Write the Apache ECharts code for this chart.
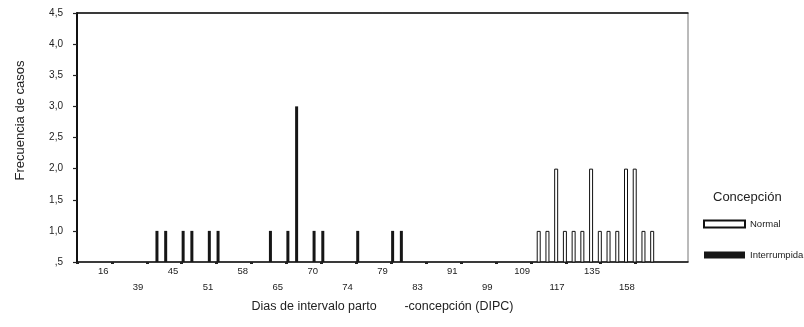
<!DOCTYPE html>
<html>
<head>
<meta charset="utf-8">
<script src="https://cdn.jsdelivr.net/npm/echarts@6/dist/echarts.min.js"></script>
<style>
html,body{margin:0;padding:0;background:#fff;}
#chart{width:804px;height:327px;}
</style>
</head>
<body>
<div id="chart"></div>
<script>
// Category values (days); every 4th one is labelled in the reference
const categories = [
  12, 14, 15, 16,   25, 32, 36, 39,   40, 42, 43, 45,   47, 48, 50, 51,
  53, 55, 56, 58,   60, 62, 63, 65,   66, 67, 68, 70,   71, 72, 73, 74,
  75, 76, 77, 79,   80, 81, 82, 83,   85, 87, 89, 91,   93, 95, 97, 99,
  102, 105, 107, 109,   111, 113, 115, 117,   121, 126, 130, 135,   140, 146, 152, 158,
  160, 163, 165
];
// empty slots at the right end of the axis
const padSlots = ['', ' ', '  ', '   '];

const normalValues = [
  0,0,0,0, 0,0,0,0, 0,0,0,0, 0,0,0,0,
  0,0,0,0, 0,0,0,0, 0,0,0,0, 0,0,0,0,
  0,0,0,0, 0,0,0,0, 0,0,0,0, 0,0,0,0,
  0,0,0,0, 0,1,1,2, 1,1,1,2, 1,1,1,2,
  2,1,1
];
const interrumpidaValues = [
  0,0,0,0, 0,0,0,0, 0,1,1,0, 1,1,0,1,
  1,0,0,0, 0,0,1,0, 1,3,0,1, 1,0,0,0,
  1,0,0,0, 1,1,0,0, 0,0,0,0, 0,0,0,0,
  0,0,0,0, 0,0,0,0, 0,0,0,0, 0,0,0,0,
  0,0,0
];
const seriesNames = ['Normal', 'Interrumpida'];
const yTicks = { min: 0.5, max: 4.5, step: 0.5 };

const FONT = "'Liberation Sans', Arial, sans-serif";
const axisCats = categories.map(String).concat(padSlots);
const lastLabel = categories.indexOf(158);

const chart = echarts.init(document.getElementById('chart'));
chart.setOption({
  animation: false,
  backgroundColor: '#fff',
  textStyle: { fontFamily: FONT },
  title: {
    text: 'Concepción',
    left: 713, top: 191, padding: 0,
    textStyle: { fontFamily: FONT, fontSize: 13, fontWeight: 'normal', color: '#222' }
  },
  legend: {
    orient: 'vertical',
    left: 703, top: 219,
    itemWidth: 41, itemHeight: 7, itemGap: 21,
    icon: 'rect',
    padding: 0,
    data: seriesNames,
    textStyle: { fontFamily: FONT, fontSize: 9.5, color: '#222' }
  },
  grid: {
    left: 77, right: 116, top: 13, bottom: 65,
    show: true, borderColor: '#777', borderWidth: 1
  },
  xAxis: [{
    type: 'category',
    data: axisCats,
    boundaryGap: false,
    name: 'Dias de intervalo parto        -concepción (DIPC)',
    nameLocation: 'middle',
    nameGap: 34,
    nameTextStyle: { fontFamily: FONT, fontSize: 12.5, color: '#222' },
    axisLine: { lineStyle: { color: '#111', width: 1.6 } },
    axisTick: {
      interval: (i) => i % 4 === 0 && i <= lastLabel + 1,
      length: 2, lineStyle: { color: '#222', width: 3 }
    },
    axisLabel: {
      interval: (i) => i % 4 === 3 && i <= lastLabel,
      formatter: (v, i) => (((i - 3) / 4) % 2 === 1 ? '\n' + v : v),
      margin: 1, lineHeight: 16,
      fontFamily: FONT, fontSize: 9.5, color: '#222'
    },
    splitLine: { show: false }
  }, {
    type: 'category',
    data: axisCats,
    boundaryGap: false,
    position: 'top',
    axisLine: { lineStyle: { color: '#111', width: 1.5 } },
    axisTick: { show: false },
    axisLabel: { show: false },
    splitLine: { show: false }
  }],
  yAxis: {
    type: 'value',
    min: yTicks.min, max: yTicks.max, interval: yTicks.step,
    name: 'Frecuencia de casos',
    nameLocation: 'middle',
    nameRotate: 90,
    nameGap: 50,
    nameTextStyle: { fontFamily: FONT, fontSize: 13, color: '#222', padding: [0, 0, 0, 34] },
    axisLine: { show: true, lineStyle: { color: '#111', width: 2 } },
    axisTick: { show: true, length: 4, lineStyle: { color: '#222', width: 1.2 } },
    axisLabel: {
      margin: 14,
      fontFamily: FONT, fontSize: 10, color: '#222',
      formatter: (v) => v.toFixed(1).replace('.', ',').replace(/^0/, '')
    },
    splitLine: { show: false }
  },
  series: [{
    name: seriesNames[0],
    type: 'bar',
    data: normalValues,
    barWidth: 4,
    barGap: '-30%',
    clip: true,
    itemStyle: { color: '#fff', borderColor: '#111', borderWidth: 1 }
  }, {
    name: seriesNames[1],
    type: 'bar',
    data: interrumpidaValues,
    barWidth: 3,
    clip: true,
    itemStyle: { color: '#161616', borderColor: '#161616', borderWidth: 0 }
  }]
});
</script>
</body>
</html>
